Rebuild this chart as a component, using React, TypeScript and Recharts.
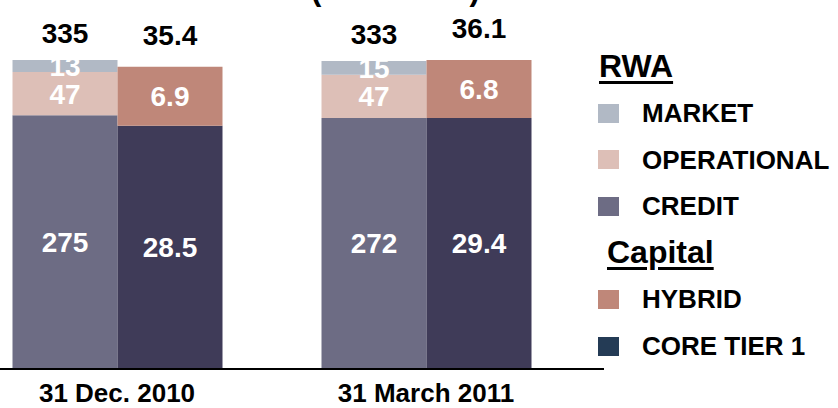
import { BarChart, Bar, XAxis, YAxis, LabelList } from "recharts"

const periods = ["31 Dec. 2010", "31 March 2011"]

// RWA (left stack)
const credit = [275, 272]
const operational = [47, 47]
const market = [13, 15]
const rwaTotal = [335, 333]

// Capital (right stack)
const coreTier1 = [28.5, 29.4]
const hybrid = [6.9, 6.8]
const capitalTotal = [35.4, 36.1]

const rwaLegend = [
  { label: "MARKET", color: "#B1B9C5" },
  { label: "OPERATIONAL", color: "#DDBFB7" },
  { label: "CREDIT", color: "#6D6C84" },
]
const capitalLegend = [
  { label: "HYBRID", color: "#BF8779" },
  { label: "CORE TIER 1", color: "#243B55" },
]

const data = periods.map((period, i) => ({
  period,
  credit: credit[i],
  operational: operational[i],
  market: market[i],
  rwaTotal: rwaTotal[i],
  coreTier1: coreTier1[i],
  hybrid: hybrid[i],
  capitalTotal: capitalTotal[i],
}))

const font = "'Liberation Sans', Arial, sans-serif"
const inner = { fill: "#fff", fontSize: 28, fontWeight: 700, fontFamily: font }
const total = { fill: "#000", fontSize: 28, fontWeight: 700, fontFamily: font }

const header = {
  position: "absolute" as const,
  fontSize: 32,
  lineHeight: "32px",
  fontWeight: 700,
  textDecoration: "underline",
  textDecorationThickness: "3px",
  textUnderlineOffset: "4px",
  whiteSpace: "nowrap" as const,
}

function LegendRow({ label, color, top }: { label: string; color: string; top: number }) {
  return (
    <div
      style={{
        position: "absolute",
        left: 598,
        top,
        height: 26,
        display: "flex",
        alignItems: "center",
        fontSize: 26,
        lineHeight: "26px",
        fontWeight: 700,
        whiteSpace: "nowrap",
      }}
    >
      <span style={{ width: 21, height: 19, background: color, marginRight: 23 }} />
      {label}
    </div>
  )
}

export default function App() {
  return (
    <div
      style={{
        position: "absolute",
        left: 0,
        top: 0,
        width: 838,
        height: 408,
        overflow: "hidden",
        background: "#fff",
        fontFamily: font,
        color: "#000",
      }}
    >
      <div
        style={{
          position: "absolute",
          left: 311,
          top: -26,
          fontSize: 31,
          lineHeight: "31px",
          fontWeight: 700,
          whiteSpace: "nowrap",
        }}
      >
        (in EUR bn)
      </div>

      <div style={{ position: "absolute", left: 0, top: 0 }}>
        <BarChart
          width={838}
          height={408}
          data={data}
          margin={{ top: 60, right: 234, bottom: 0, left: -37.5 }}
          barGap={0}
          barSize={105}
        >
          <XAxis
            dataKey="period"
            height={39}
            interval={0}
            tickLine={false}
            tickSize={0}
            tickMargin={15}
            padding={{ left: 0, right: 23.5 }}
            axisLine={{ stroke: "#000", strokeWidth: 2 }}
            tick={{ fill: "#000", fontSize: 26, fontWeight: 700, fontFamily: font }}
          />
          <YAxis yAxisId="rwa" hide domain={[0, 335]} />
          <YAxis yAxisId="cap" hide orientation="right" domain={[0, 35.75]} />

          <Bar yAxisId="rwa" stackId="rwa" dataKey="credit" fill="#6D6C84" isAnimationActive={false}>
            <LabelList dataKey="credit" position="center" {...inner} />
          </Bar>
          <Bar yAxisId="rwa" stackId="rwa" dataKey="operational" fill="#DDBFB7" isAnimationActive={false}>
            <LabelList dataKey="operational" position="center" {...inner} />
          </Bar>
          <Bar yAxisId="rwa" stackId="rwa" dataKey="market" fill="#B1B9C5" isAnimationActive={false}>
            <LabelList dataKey="market" position="center" {...inner} />
            <LabelList dataKey="rwaTotal" position="top" offset={17} {...total} />
          </Bar>

          <Bar yAxisId="cap" stackId="cap" dataKey="coreTier1" fill="#3F3B58" isAnimationActive={false}>
            <LabelList dataKey="coreTier1" position="center" {...inner} />
          </Bar>
          <Bar yAxisId="cap" stackId="cap" dataKey="hybrid" fill="#BF8779" isAnimationActive={false}>
            <LabelList dataKey="hybrid" position="center" {...inner} />
            <LabelList dataKey="capitalTotal" position="top" offset={22} {...total} />
          </Bar>
        </BarChart>
      </div>

      <div style={{ ...header, left: 599, top: 50 }}>RWA</div>
      {rwaLegend.map((item, i) => (
        <LegendRow key={item.label} label={item.label} color={item.color} top={100 + i * 46.5} />
      ))}
      <div style={{ ...header, left: 607, top: 236 }}>Capital</div>
      {capitalLegend.map((item, i) => (
        <LegendRow key={item.label} label={item.label} color={item.color} top={286 + i * 47} />
      ))}
    </div>
  )
}
